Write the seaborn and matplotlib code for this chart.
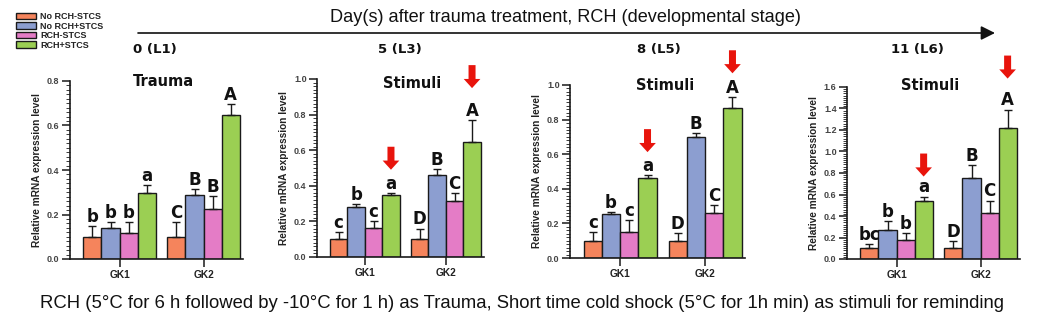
import numpy as np
import pandas as pd
import matplotlib
matplotlib.use("Agg")
import matplotlib.pyplot as plt
from matplotlib.patches import Patch
from matplotlib.ticker import MultipleLocator
import seaborn as sns

sns.set_style("ticks")
plt.rcParams['font.family'] = ['Liberation Sans', 'DejaVu Sans']

# ---------------- data ----------------
genes = ['GK1', 'GK2']
treatments = ['No RCH-STCS', 'No RCH+STCS', 'RCH-STCS', 'RCH+STCS']
colors = ['#F5845C', '#8C9ED0', '#E47CC6', '#9BCF53']

day_labels = ['0 (L1)', '5 (L3)', '8 (L5)', '11 (L6)']
panel_titles = ['Trauma', 'Stimuli', 'Stimuli', 'Stimuli']

# means per gene (rows: GK1, GK2), per treatment (cols)
mean_d0 = [[0.10, 0.140, 0.117, 0.298], [0.10, 0.289, 0.224, 0.646]]
err_d0 = [[0.047, 0.027, 0.050, 0.035], [0.066, 0.025, 0.057, 0.050]]
let_d0 = [['b', 'b', 'b', 'a'], ['C', 'B', 'B', 'A']]

mean_d5 = [[0.10, 0.282, 0.165, 0.348], [0.10, 0.459, 0.316, 0.647]]
err_d5 = [[0.040, 0.013, 0.038, 0.013], [0.060, 0.035, 0.041, 0.122]]
let_d5 = [['c', 'b', 'c', 'a'], ['D', 'B', 'C', 'A']]

mean_d8 = [[0.10, 0.252, 0.150, 0.465], [0.10, 0.698, 0.258, 0.865]]
err_d8 = [[0.050, 0.013, 0.067, 0.014], [0.042, 0.023, 0.048, 0.064]]
let_d8 = [['c', 'b', 'c', 'a'], ['D', 'B', 'C', 'A']]

mean_d11 = [[0.10, 0.266, 0.179, 0.544], [0.10, 0.750, 0.432, 1.217]]
err_d11 = [[0.040, 0.090, 0.065, 0.037], [0.070, 0.124, 0.112, 0.173]]
let_d11 = [['bc', 'b', 'b', 'a'], ['D', 'B', 'C', 'A']]

y_max = [0.8, 1.0, 1.0, 1.6]
arrow_flags = [False, True, True, True]  # red arrows over RCH+STCS bars

top_title = 'Day(s) after trauma treatment, RCH (developmental stage)'
caption = ('RCH (5\u00b0C for 6 h followed by -10\u00b0C for 1 h) as Trauma, '
           'Short time cold shock (5\u00b0C for 1h min) as stimuli for reminding')

# ---------------- layout helpers ----------------
W, H = 1049, 324
fig = plt.figure(figsize=(W / 100, H / 100), dpi=100)


def fx(px):
    return px / W


def fy(py):
    return 1 - py / H


# axes boxes in pixels: left, right, y(bottom=0), y(top)
boxes = [(70, 243, 259, 81), (317, 484, 257, 79), (570, 745, 258, 85), (847, 1020, 259, 87)]
minor_steps = [0.02, 0.02, 0.02, 0.02]
title_pos = [(163, 82), (412, 83), (665, 85), (930, 85)]
day_pos = [155, 400, 659, 917]
arrow_up_px = [None, (23, 32), (23, 24), (20, 31)]  # tip height above error cap (GK1, GK2)

means = [mean_d0, mean_d5, mean_d8, mean_d11]
errs = [err_d0, err_d5, err_d8, err_d11]
lets = [let_d0, let_d5, let_d8, let_d11]

edge = '#1a1a1a'
bold_font = ['DejaVu Sans']

for i in range(4):
    l, r, b, t = boxes[i]
    ax = fig.add_axes([fx(l), fy(b), (r - l) / W, (b - t) / H])
    rows = []
    for gi, g in enumerate(genes):
        for ti, tr in enumerate(treatments):
            rows.append({'gene': g, 'treatment': tr, 'value': means[i][gi][ti],
                         'err': errs[i][gi][ti], 'letter': lets[i][gi][ti]})
    df = pd.DataFrame(rows)
    sns.barplot(data=df, x='gene', y='value', hue='treatment', order=genes,
                hue_order=treatments, palette=colors, saturation=1, width=0.86,
                edgecolor=edge, linewidth=1.0, errorbar=None, legend=False, ax=ax)
    ax.set_xlim(-0.59, 1.47)
    ax.set_ylim(0, y_max[i])
    bar_conts = list(ax.containers)
    fig.canvas.draw()
    for ti, cont in enumerate(bar_conts):
        tr = treatments[ti]
        sub = df[df['treatment'] == tr].set_index('gene').loc[genes]
        xs = [p.get_x() + p.get_width() / 2 for p in cont]
        tops = [p.get_height() for p in cont]
        e = sub['err'].values
        ax.errorbar(xs, tops, yerr=[np.zeros_like(e), e], fmt='none', ecolor=edge,
                    elinewidth=1.0, capsize=2.8, capthick=1.0, zorder=3)
        for gi, (x, tp, ee, lt) in enumerate(zip(xs, tops, e, sub['letter'].values)):
            ax.annotate(lt, (x, tp + ee), xytext=(0, 3), textcoords='offset points',
                        ha='center', va='baseline', fontsize=12, fontweight='bold',
                        family=bold_font, color='#111', annotation_clip=False)
            if arrow_flags[i] and tr == 'RCH+STCS':
                tip = ax.transData.transform((x, tp + ee))
                tip_y = tip[1] + arrow_up_px[i][gi]
                fig.add_artist(matplotlib.patches.FancyArrowPatch(
                    (tip[0], tip_y + 23), (tip[0], tip_y), transform=None,
                    arrowstyle='simple,head_length=0.55,head_width=1.0,tail_width=0.42',
                    mutation_scale=12, color='#E8140C', shrinkA=0, shrinkB=0, lw=0))
    ax.yaxis.set_major_locator(MultipleLocator(0.2))
    if minor_steps[i]:
        ax.yaxis.set_minor_locator(MultipleLocator(minor_steps[i]))
    ax.yaxis.set_major_formatter(matplotlib.ticker.FormatStrFormatter('%.1f'))
    sns.despine(ax=ax)
    for sp in ['left', 'bottom']:
        ax.spines[sp].set_linewidth(1.2)
        ax.spines[sp].set_color(edge)
    ax.tick_params(axis='y', which='major', length=6, width=1.1, color=edge,
                   labelsize=6.5, labelcolor='#444', pad=1.5)
    ax.tick_params(axis='y', which='minor', length=2.8, width=0.6, color=edge)
    ax.tick_params(axis='x', length=6, width=1.1, color=edge, labelsize=7.3, pad=2)
    for lab in ax.get_yticklabels():
        lab.set_fontweight('bold')
    for lab in ax.get_xticklabels():
        lab.set_fontweight('bold')
        lab.set_color('#222')
    ax.set_xlabel('')
    ax.set_ylabel('Relative mRNA expression level', fontsize=7.3, fontweight='bold', color='#222')
    ax.yaxis.set_label_coords(-28 / (r - l), 0.5)
    ax.set_facecolor('none')

    fig.text(fx(title_pos[i][0]), fy(title_pos[i][1]), panel_titles[i], ha='center', va='center',
             fontsize=10.5, fontweight='bold', family=bold_font, color='#111')
    fig.text(fx(day_pos[i]), fy(50), day_labels[i], ha='center', va='center',
             fontsize=9.5, fontweight='bold', family=bold_font, color='#111')

# timeline arrow
fig.add_artist(matplotlib.patches.FancyArrowPatch(
    (fx(138), fy(33)), (fx(995), fy(33)), transform=fig.transFigure,
    arrowstyle='-|>,head_length=0.6,head_width=0.3', mutation_scale=14,
    color='#111', lw=1.2, shrinkA=0, shrinkB=0))

renderer = fig.canvas.get_renderer()
narrow = ['Liberation Sans Narrow', 'Liberation Sans', 'DejaVu Sans']


def fit_text(cx, cy, s, target_w, size0):
    t = fig.text(fx(cx), fy(cy), s, ha='center', va='center', fontsize=size0,
                 family=narrow, color='#111')
    w = t.get_window_extent(renderer).width
    t.set_fontsize(size0 * target_w / w)
    return t


fit_text(565, 18, top_title, 473, 12)
fit_text(522, 303, caption, 970, 12)

# legend
handles = [Patch(facecolor=c, edgecolor=edge, linewidth=1.0, label=tr) for c, tr in zip(colors, treatments)]
leg = fig.legend(handles=handles, loc='upper left', bbox_to_anchor=(fx(10), fy(6)),
                 frameon=False, prop={'size': 6.5, 'weight': 'bold'},
                 handlelength=2.2, handleheight=0.7, labelspacing=0.05,
                 handletextpad=0.45, borderpad=0.2)
for txt in leg.get_texts():
    txt.set_color('#222')

fig.savefig('out.png', dpi=100)
